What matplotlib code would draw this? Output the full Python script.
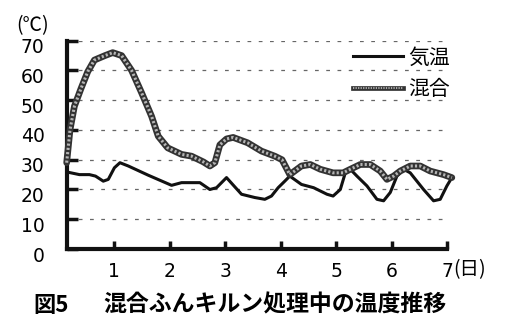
import matplotlib
matplotlib.use("Agg")
import matplotlib.pyplot as plt
import matplotlib.transforms as mtransforms
from matplotlib.lines import Line2D
from matplotlib.legend_handler import HandlerTuple

# ---- data ----
days_air = [0.14, 0.37, 0.55, 0.66, 0.80, 0.89, 1.00, 1.10, 1.25, 1.61, 2.03, 2.21,
            2.54, 2.72, 2.84, 3.02, 3.14, 3.29, 3.53, 3.71, 3.83, 3.95, 4.07, 4.16,
            4.37, 4.59, 4.83, 4.94, 5.07, 5.16, 5.25, 5.37, 5.55, 5.73, 5.85, 5.97,
            6.09, 6.21, 6.33, 6.57, 6.75, 6.87, 6.99, 7.08]
air = [25.9, 25.0, 25.0, 24.5, 22.8, 23.4, 27.3, 29.0, 27.9, 24.8, 21.4, 22.3,
       22.3, 20.0, 20.6, 24.0, 21.5, 18.4, 17.3, 16.7, 17.8, 20.6, 22.8, 24.5,
       21.7, 20.6, 18.4, 17.8, 20.0, 25.6, 26.8, 24.5, 21.2, 16.7, 16.2, 19.0,
       24.5, 26.8, 25.6, 20.0, 16.2, 16.7, 21.2, 24.0]

days_mix = [0.14, 0.20, 0.28, 0.40, 0.52, 0.64, 0.83, 0.97, 1.13, 1.31, 1.49, 1.67,
            1.79, 1.96, 2.21, 2.39, 2.60, 2.72, 2.81, 2.90, 3.02, 3.14, 3.40, 3.65,
            3.89, 4.02, 4.16, 4.37, 4.53, 4.71, 4.94, 5.12, 5.25, 5.43, 5.61, 5.79,
            5.91, 6.03, 6.15, 6.33, 6.51, 6.69, 6.93, 7.08]
mix = [29.0, 40.0, 48.0, 54.0, 59.6, 63.5, 65.0, 66.0, 65.0, 60.0, 52.5, 44.6,
       37.9, 34.0, 31.8, 31.2, 29.3, 27.9, 29.0, 35.0, 37.0, 37.5, 35.7, 32.9,
       31.2, 30.0, 25.0, 27.9, 28.4, 26.8, 25.6, 25.6, 26.8, 28.4, 28.4, 26.2,
       23.4, 24.5, 26.2, 27.9, 27.9, 26.2, 25.0, 24.0]

x_ticks = [1, 2, 3, 4, 5, 6, 7]
y_ticks = [0, 10, 20, 30, 40, 50, 60, 70]
label_air = "気温"
label_mix = "混合"
y_unit = "(℃)"
x_unit = "(日)"
caption_fig = "図5"
caption_text = "混合ふんキルン処理中の温度推移"

CJK = ["Noto Sans CJK JP", "DejaVu Sans"]

fig = plt.figure(figsize=(5.05, 3.27), dpi=100)
ax = fig.add_axes([0.132, 0.2385, 0.754, 0.637])

ax.set_xlim(0.14, 7.0)
ax.set_ylim(0, 70)

for s in ["top", "right"]:
    ax.spines[s].set_visible(False)
for s in ["left", "bottom"]:
    ax.spines[s].set_linewidth(3.0)
    ax.spines[s].set_color("#111111")

ax.set_xticks(x_ticks)
ax.set_yticks(y_ticks)
ax.tick_params(axis="y", direction="in", length=8, width=2.5, pad=16,
               labelsize=13.5, color="#111111")
ax.tick_params(axis="x", direction="in", length=6, width=2.5, pad=9,
               labelsize=13.5, color="#111111")
shift_down = mtransforms.ScaledTranslation(0, -5 / 100, fig.dpi_scale_trans)
for lab in ax.get_yticklabels():
    lab.set_family("DejaVu Sans")
    lab.set_transform(lab.get_transform() + shift_down)
for lab in ax.get_xticklabels():
    lab.set_family("DejaVu Sans")

ax.yaxis.grid(True, linestyle=(0, (3, 6)), color="#666666", linewidth=0.9)
ax.set_axisbelow(True)

# air temperature
ax.plot(days_air, air, color="#111111", lw=2.2, solid_joinstyle="round",
        solid_capstyle="round", clip_on=False, zorder=3)
# mixture temperature: dark outline + light dotted fill
ax.plot(days_mix, mix, color="#333333", lw=4.8, solid_joinstyle="round",
        solid_capstyle="round", clip_on=False, zorder=4)
ax.plot(days_mix, mix, color="#b5b5b5", lw=2.2, linestyle=(0, (0.7, 0.7)),
        clip_on=False, zorder=5)

h_air = Line2D([], [], color="#111111", lw=2.2)
h_mix_a = Line2D([], [], color="#333333", lw=3.4)
h_mix_b = Line2D([], [], color="#b5b5b5", lw=1.3, linestyle=(0, (0.7, 0.7)))
leg = ax.legend([h_air, (h_mix_a, h_mix_b)], [label_air, label_mix],
                handler_map={tuple: HandlerTuple(ndivide=1, pad=0)},
                loc="upper left", bbox_to_anchor=(0.752, 0.972),
                frameon=False, handlelength=2.4, handletextpad=0.25,
                labelspacing=0.45, borderpad=0, borderaxespad=0,
                prop={"family": CJK, "size": 15})

# unit labels
fig.text(33 / 505, 1 - 26 / 327, y_unit, family=CJK, fontsize=14,
         ha="center", va="center")
ax.annotate(x_unit, xy=(7, 0), xycoords="data", xytext=(4, -15),
            textcoords="offset points", ha="left", va="center",
            family=CJK, fontsize=14)

# caption
fig.text(33 / 505, 1 - 305 / 327, caption_fig, family=CJK, fontsize=16,
         weight="bold", ha="left", va="center")
fig.text(103 / 505, 1 - 305 / 327, caption_text, family=CJK, fontsize=16.5,
         weight="bold", ha="left", va="center")

fig.savefig("out.png", dpi=100)
